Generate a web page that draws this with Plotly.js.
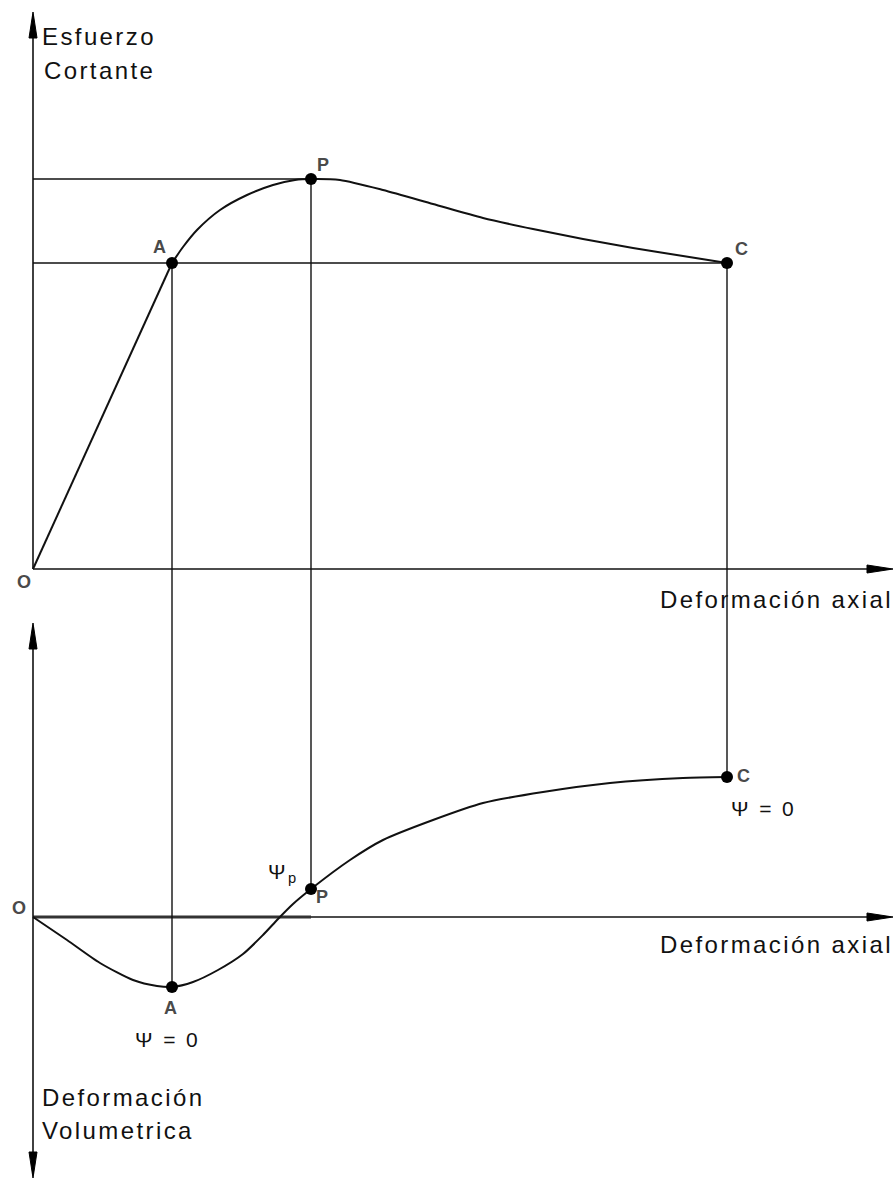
<!DOCTYPE html>
<html>
<head>
<meta charset="utf-8">
<script src="https://cdn.plot.ly/plotly-3.0.1.min.js"></script>
<style>
html,body{margin:0;padding:0;background:#fff;}
#chart{width:896px;height:1181px;}
.annotation-text{letter-spacing:2.4px;}
</style>
</head>
<body>
<div id="chart"></div>
<script>
// ---------- DATA (diagram units) ----------
// Upper panel: Esfuerzo cortante vs deformación axial
const strainElastic = [0, 139];
const shearElastic  = [0, 306];
const strainTop = [139, 150, 164, 187, 214, 240, 262, 278, 307, 350, 400, 450, 500, 550, 600, 650, 694];
const shearTop  = [306, 322, 339, 359, 374, 384, 389, 390, 389, 379, 365, 351, 340, 330, 321, 313, 306];

// Lower panel: deformación volumétrica vs deformación axial
const strainVol = [0, 34, 67, 100, 124, 139, 160, 185, 210, 230, 245, 260, 278, 317, 350, 400, 450, 510, 577, 650, 694];
const volStrain = [0, -23, -46, -63, -69, -70, -65, -53, -37, -18, -2, 13, 28, 57, 77, 97, 114, 125, 134, 139, 140];

// Key points A, P, C
const keyLabels = ['A', 'P', 'C'];
const keyStrain = [139, 278, 694];
const keyShear  = [306, 390, 306];
const keyVol    = [-70, 28, 140];

// Texts
const yTitleTop = ['Esfuerzo', 'Cortante'];
const yTitleBottom = ['Deformación', 'Volumetrica'];
const xTitle = 'Deformación axial';
const psiZero = 'Ψ = 0';
const psiPeak = 'Ψ<sub>p</sub>';

// ---------- LAYOUT CONSTANTS ----------
const X_RANGE = [-33, 863];
const Y_TOP_RANGE = [-31, 569];
const Y_BOT_RANGE = [-264, 317];
const SPLIT = 581 / 1181;
const X_TIP = 860;
const Y_TOP_TIP = 557;
const Y_BOT_UP_TIP = 294;
const Y_BOT_DOWN_TIP = -261;
const HEAD_L = 26, HEAD_W = 4;

const INK = '#111';
const GREY = '#4a4a4a';
const FONT = 'Liberation Sans, Arial, sans-serif';

const traces = [
  {x: strainElastic, y: shearElastic, xaxis: 'x', yaxis: 'y', mode: 'lines',
   line: {color: INK, width: 2}, hoverinfo: 'skip'},
  {x: strainTop, y: shearTop, xaxis: 'x', yaxis: 'y', mode: 'lines',
   line: {color: INK, width: 2, shape: 'spline', smoothing: 0.7}, hoverinfo: 'skip'},
  {x: strainVol, y: volStrain, xaxis: 'x', yaxis: 'y2', mode: 'lines',
   line: {color: INK, width: 2, shape: 'spline', smoothing: 0.7}, hoverinfo: 'skip'},
  {x: keyStrain, y: keyShear, xaxis: 'x', yaxis: 'y', mode: 'markers',
   marker: {color: '#000', size: 12}, hoverinfo: 'skip'},
  {x: keyStrain, y: keyVol, xaxis: 'x', yaxis: 'y2', mode: 'markers',
   marker: {color: '#000', size: 12}, hoverinfo: 'skip'}
];

const shapes = [];
function seg(x0, y0, x1, y1, yref, w, c) {
  shapes.push({type: 'line', xref: 'x', yref: yref, x0: x0, y0: y0, x1: x1, y1: y1,
               line: {color: c || INK, width: w || 1.4}, layer: 'below'});
}
function tri(path, yref) {
  shapes.push({type: 'path', xref: 'x', yref: yref, path: path,
               fillcolor: '#000', line: {color: '#000', width: 1}});
}
// axes
seg(0, 0, X_TIP - 4, 0, 'y', 1.6);
seg(0, 0, 0, Y_TOP_TIP - 4, 'y', 1.6);
tri(`M${X_TIP},0 L${X_TIP - HEAD_L},${HEAD_W} L${X_TIP - HEAD_L},${-HEAD_W} Z`, 'y');
tri(`M0,${Y_TOP_TIP} L${-HEAD_W},${Y_TOP_TIP - HEAD_L} L${HEAD_W},${Y_TOP_TIP - HEAD_L} Z`, 'y');

seg(0, 0, X_TIP - 4, 0, 'y2', 1.6);
seg(0, 0, keyStrain[1], 0, 'y2', 3, '#333');
seg(0, Y_BOT_DOWN_TIP + 4, 0, Y_BOT_UP_TIP - 4, 'y2', 1.6);
tri(`M${X_TIP},0 L${X_TIP - HEAD_L},${HEAD_W} L${X_TIP - HEAD_L},${-HEAD_W} Z`, 'y2');
tri(`M0,${Y_BOT_UP_TIP} L${-HEAD_W},${Y_BOT_UP_TIP - HEAD_L} L${HEAD_W},${Y_BOT_UP_TIP - HEAD_L} Z`, 'y2');
tri(`M0,${Y_BOT_DOWN_TIP} L${-HEAD_W},${Y_BOT_DOWN_TIP + HEAD_L} L${HEAD_W},${Y_BOT_DOWN_TIP + HEAD_L} Z`, 'y2');

// horizontal reference lines (peak P and critical C)
seg(0, keyShear[1], keyStrain[1], keyShear[1], 'y');
seg(0, keyShear[2], keyStrain[2], keyShear[2], 'y');
// vertical connectors between panels
for (let i = 0; i < keyStrain.length; i++) {
  seg(keyStrain[i], keyShear[i], keyStrain[i], Y_TOP_RANGE[0], 'y');
  seg(keyStrain[i], Y_BOT_RANGE[1], keyStrain[i], keyVol[i], 'y2');
}

const annotations = [];
function txt(text, x, y, yref, opts) {
  annotations.push(Object.assign({text: text, x: x, y: y, xref: 'x', yref: yref,
    showarrow: false, xanchor: 'center', yanchor: 'middle',
    font: {family: FONT, size: 24, color: INK}}, opts || {}));
}
function pt(text, x, y, yref) {
  txt(text, x, y, yref, {font: {family: FONT, size: 18, color: GREY, weight: 'bold'}});
}
txt(yTitleTop[0], 7, 533, 'y', {xanchor: 'left'});
txt(yTitleTop[1], 9, 499, 'y', {xanchor: 'left'});
txt(xTitle, X_TIP + 2, -30, 'y', {xanchor: 'right'});
txt(xTitle, X_TIP + 2, -27, 'y2', {xanchor: 'right'});
txt(yTitleBottom[0], 7, -180, 'y2', {xanchor: 'left'});
txt(yTitleBottom[1], 7, -213, 'y2', {xanchor: 'left'});

pt('O', -8, -13, 'y');
pt('O', -13, 9, 'y2');
pt(keyLabels[0], keyStrain[0] - 12, keyShear[0] + 16, 'y');
pt(keyLabels[1], keyStrain[1] + 13, keyShear[1] + 14, 'y');
pt(keyLabels[2], keyStrain[2] + 15, keyShear[2] + 14, 'y');
pt(keyLabels[0], keyStrain[0] - 1, keyVol[0] - 21, 'y2');
pt(keyLabels[1], keyStrain[1] + 12, keyVol[1] - 8, 'y2');
pt(keyLabels[2], keyStrain[2] + 17, keyVol[2] + 1, 'y2');

txt(psiZero, keyStrain[0] - 5, keyVol[0] - 52, 'y2', {font: {family: FONT, size: 21, color: INK}});
txt(psiZero, keyStrain[2] + 36, keyVol[2] - 31, 'y2', {font: {family: FONT, size: 21, color: INK}});
txt(psiPeak, keyStrain[1] - 10, keyVol[1] + 16, 'y2', {xanchor: 'right', font: {family: FONT, size: 21, color: INK}});

const hidden = {visible: false, showgrid: false, zeroline: false, fixedrange: true};
const layout = {
  width: 896, height: 1181,
  margin: {l: 0, r: 0, t: 0, b: 0, pad: 0},
  paper_bgcolor: '#fff', plot_bgcolor: '#fff',
  showlegend: false,
  xaxis: Object.assign({range: X_RANGE, domain: [0, 1], anchor: 'y2'}, hidden),
  yaxis: Object.assign({range: Y_TOP_RANGE, domain: [SPLIT, 1], anchor: 'x'}, hidden),
  yaxis2: Object.assign({range: Y_BOT_RANGE, domain: [0, SPLIT], anchor: 'x'}, hidden),
  shapes: shapes,
  annotations: annotations
};
Plotly.newPlot('chart', traces, layout, {staticPlot: true, displayModeBar: false});
</script>
</body>
</html>
